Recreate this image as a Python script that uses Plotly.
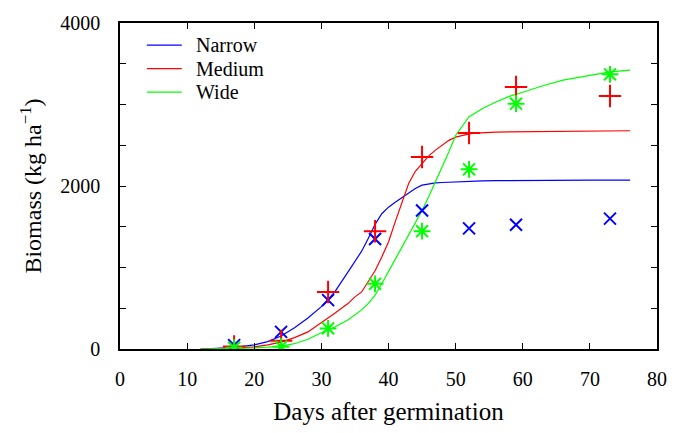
import plotly.graph_objects as go

# Simulated curves (days after germination)
sim_days = [12, 14, 16, 18, 20, 22, 24, 26, 28, 30, 32, 34, 35, 36, 37, 38, 39, 40, 41, 42, 43, 44,
            45, 46, 47, 48, 49, 50, 52, 53, 54, 56, 58, 60, 63, 66, 70, 73, 76]
narrow_sim = [0, 5, 15, 30, 50, 90, 160, 260, 380, 520, 700, 950, 1070, 1200, 1360, 1530, 1660, 1740,
              1800, 1860, 1920, 1970, 2010, 2028, 2038, 2043, 2047, 2050, 2057, 2060, 2062, 2065,
              2067, 2068, 2069, 2070, 2071, 2072, 2072]
medium_sim = [0, 3, 8, 15, 25, 50, 85, 140, 210, 320, 440, 560, 640, 700, 830, 960, 1130, 1313,
              1560, 1800, 2030, 2180, 2280, 2370, 2440, 2500, 2560, 2600, 2640, 2650, 2655, 2660,
              2663, 2665, 2668, 2671, 2674, 2676, 2678]
wide_sim = [0, 2, 5, 9, 14, 22, 35, 65, 120, 200, 270, 360, 420, 480, 560, 660, 800, 960,
            1100, 1250, 1400, 1550, 1700, 1870, 2050, 2230, 2420, 2620, 2850, 2900, 2950, 3030,
            3100, 3150, 3230, 3300, 3360, 3400, 3422]

# Observations
obs_days = [17, 24, 31, 38, 45, 52, 59, 73]
narrow_obs = [48, 210, 600, 1350, 1700, 1480, 1525, 1600]
medium_obs = [30, 100, 700, 1445, 2355, 2650, 3215, 3105]
wide_obs = [16, 28, 253, 800, 1446, 2205, 3010, 3370]

names = ["Narrow", "Medium", "Wide"]
colors = ["#0000ff", "#ff0000", "#00ff00"]
symbols = ["x-thin", "cross-thin", "asterisk"]
msizes = [12, 16, 14]
sims = [narrow_sim, medium_sim, wide_sim]
obss = [narrow_obs, medium_obs, wide_obs]

fig = go.Figure()
for name, c, sim in zip(names, colors, sims):
    fig.add_trace(go.Scatter(x=sim_days, y=sim, mode="lines", name=name,
                             line=dict(color=c, width=1.2), showlegend=False))
for name, c, s, ms, obs in zip(names, colors, symbols, msizes, obss):
    fig.add_trace(go.Scatter(x=obs_days, y=obs, mode="markers", name=name + " obs",
                             marker=dict(symbol=s, size=ms, color=c,
                                         line=dict(color=c, width=2)),
                             showlegend=False))

# Manual legend (lines + labels) inside top-left of the plot area
legend_y = [0.932, 0.860, 0.788]
for name, c, ly in zip(names, colors, legend_y):
    fig.add_shape(type="line", xref="paper", yref="paper", x0=0.05, x1=0.115,
                  y0=ly, y1=ly, line=dict(color=c, width=1.2))
    fig.add_annotation(xref="paper", yref="paper", x=0.138, y=ly, text=name,
                       showarrow=False, xanchor="left", yanchor="middle",
                       font=dict(size=20))

font_family = "Liberation Serif"

fig.update_layout(
    width=679, height=433,
    margin=dict(l=120, r=19, t=17, b=84),
    paper_bgcolor="white", plot_bgcolor="white",
    font=dict(family=font_family, size=20, color="black"),
    showlegend=False,
    xaxis=dict(range=[0, 80], tickvals=list(range(0, 81, 10)), ticks="inside",
               ticklen=6, tickwidth=1.3, tickcolor="black", showline=True,
               linecolor="black", linewidth=1.5, mirror="ticks", showgrid=False,
               zeroline=False, ticklabelstandoff=11,
               title=dict(text="Days after germination", standoff=14,
                          font=dict(size=25))),
    yaxis=dict(range=[0, 4000], tickvals=[0, 2000, 4000], ticks="inside",
               ticklen=6, tickwidth=1.3, tickcolor="black", showline=True,
               linecolor="black", linewidth=1.5, mirror="ticks", showgrid=False,
               zeroline=False, ticklabelstandoff=14,
               minor=dict(dtick=500, ticks="inside", ticklen=6, tickwidth=1.3,
                          tickcolor="black", showgrid=False),
               title=dict(text="Biomass (kg ha<sup>−1</sup>)", standoff=12,
                          font=dict(size=24))),
)

fig.write_html("out.html")
